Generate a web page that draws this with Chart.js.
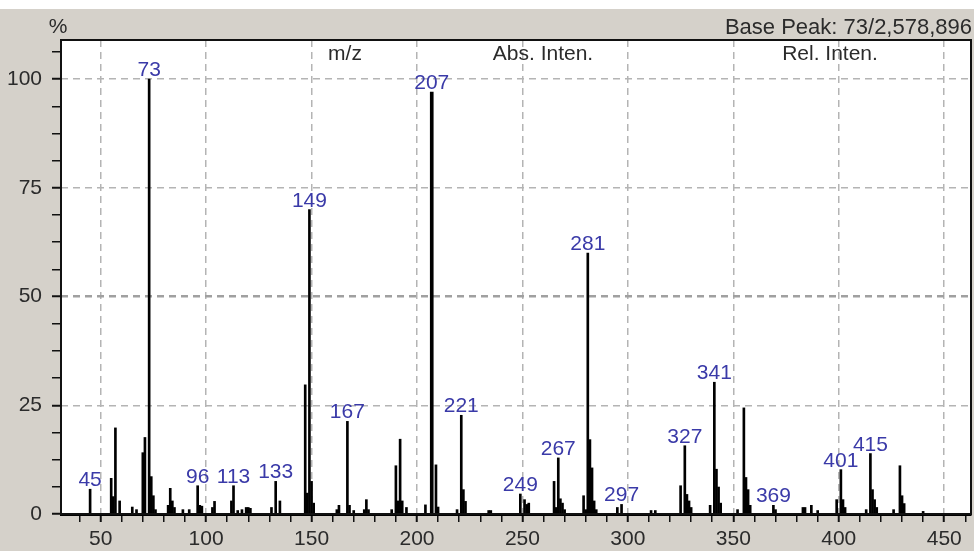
<!DOCTYPE html>
<html>
<head>
<meta charset="utf-8">
<script src="https://cdn.jsdelivr.net/npm/chart.js@4.4.1/dist/chart.umd.min.js"></script>
<style>
  html, body { margin: 0; padding: 0; background: #fff; }
  #wrap { width: 974px; height: 551px; }
</style>
</head>
<body>
<div id="wrap"><canvas id="spectrum" width="974" height="551"></canvas></div>
<script>
// m/z of every line in the spectrum and its relative intensity (%)
var mz = [45, 55, 56, 57, 59, 65, 67, 70, 71, 73, 74, 75, 76, 82, 83, 84, 85, 89, 92,
    96, 97, 98, 103, 104, 112, 113, 115, 117, 119, 120, 121, 131, 133, 135,
    147, 148, 149, 150, 151, 162, 163, 167, 168, 170, 175, 176, 177,
    188, 190, 191, 192, 193, 195, 204, 207, 209, 210, 219, 221, 222, 223, 234, 235,
    249, 251, 252, 253, 265, 266, 267, 268, 269, 270, 279, 280, 281, 282, 283, 284, 285,
    295, 297, 311, 313, 325, 327, 328, 329, 330, 339, 341, 342, 343, 344, 352,
    355, 356, 357, 358, 369, 370, 383, 384, 387, 390, 399, 401, 402, 403, 413,
    415, 416, 417, 418, 426, 429, 430, 431, 440];
var relInt = [5.7, 8.2, 4.0, 19.8, 3.0, 1.6, 1.0, 14.1, 17.6, 100, 8.6, 4.2, 1.0, 2.0, 5.9, 3.0, 1.5, 1.0, 1.0,
    6.5, 2.0, 1.8, 1.5, 2.9, 3.0, 6.5, 0.8, 1.0, 1.5, 1.5, 1.3, 1.5, 7.5, 3.0,
    29.7, 4.8, 70, 7.5, 2.5, 1.0, 2.0, 21.3, 2.0, 0.8, 1.0, 3.3, 1.0,
    1.0, 11.1, 3.0, 17.2, 3.0, 1.5, 2.1, 97, 11.3, 1.6, 1.0, 22.7, 5.6, 2.9, 0.8, 0.8,
    4.6, 3.3, 2.2, 2.5, 7.5, 1.5, 12.9, 3.5, 2.5, 1.0, 4.2, 1.0, 60, 17.1, 10.6, 3.0, 1.0,
    1.5, 2.2, 0.8, 0.8, 6.5, 15.7, 4.5, 3.0, 1.5, 2.0, 30.3, 10.3, 6.2, 2.5, 1.0,
    24.4, 8.4, 5.6, 2.0, 2.0, 1.0, 1.5, 1.5, 2.0, 0.8, 3.3, 10.2, 3.3, 1.5, 1.0,
    13.9, 5.6, 3.3, 1.5, 1.0, 11.1, 4.2, 2.4, 0.6];

// peaks that carry an m/z annotation
var labelled = [45, 73, 96, 113, 133, 149, 167, 207, 221, 249, 267, 281, 297, 327, 341, 369, 401, 415];
// drawn with a heavier stroke
var heavy = [207];

var xTicks = [];
for (var t = 40; t <= 460; t += 10) xTicks.push(t);
var yTicks = [0, 6.25, 12.5, 18.75, 25, 31.25, 37.5, 43.75, 50, 56.25, 62.5, 68.75, 75, 81.25, 87.5, 93.75, 100, 106.25];

var basePeak = 'Base Peak: 73/2,578,896';
var columns = [['m/z', 345], ['Abs. Inten.', 543], ['Rel. Inten.', 830]];

var FONT = '"Liberation Sans", Arial, sans-serif';
var normal = [], bold = [];
mz.forEach(function (m, i) {
    (heavy.indexOf(m) >= 0 ? bold : normal).push({ x: m, y: relInt[i] });
});

var backdrop = {
    id: 'backdrop',
    beforeDraw: function (chart) {
        var c = chart.ctx, a = chart.chartArea;
        c.save();
        c.fillStyle = '#fff';
        c.fillRect(0, 0, chart.width, chart.height);
        c.fillStyle = '#d5d1ca';
        c.fillRect(0, 9, chart.width, chart.height - 9);
        c.fillStyle = '#fff';
        c.fillRect(a.left, a.top, a.right - a.left, a.bottom - a.top);
        c.restore();
    }
};

var annotate = {
    id: 'annotate',
    afterDatasetsDraw: function (chart) {
        var c = chart.ctx, a = chart.chartArea;
        c.save();
        // frame
        c.strokeStyle = '#111';
        c.lineWidth = 2;
        c.strokeRect(a.left, a.top, a.right - a.left, a.bottom - a.top);

        // header line
        c.fillStyle = '#2b2b2b';
        c.textBaseline = 'middle';
        c.font = '21px ' + FONT;
        c.textAlign = 'center';
        c.fillText('%', 58, 27);
        c.font = '22px ' + FONT;
        c.textAlign = 'right';
        c.fillText(basePeak, 972, 28);
        c.font = '21px ' + FONT;
        c.textAlign = 'center';
        columns.forEach(function (col) { c.fillText(col[0], col[1], 54); });

        // peak m/z labels
        c.fillStyle = '#3a3aa8';
        c.textBaseline = 'alphabetic';
        c.font = '21px ' + FONT;
        chart.data.datasets.forEach(function (ds, di) {
            var meta = chart.getDatasetMeta(di);
            ds.data.forEach(function (p, i) {
                if (labelled.indexOf(p.x) < 0) return;
                var bar = meta.data[i];
                c.fillText(String(p.x), bar.x, bar.y - 3);
            });
        });
        c.restore();
    }
};

new Chart(document.getElementById('spectrum'), {
    type: 'bar',
    data: {
        datasets: [
            { data: normal, backgroundColor: '#000', barThickness: 2, grouped: false },
            { data: bold, backgroundColor: '#000', barThickness: 3, grouped: false }
        ]
    },
    options: {
        responsive: false,
        animation: false,
        devicePixelRatio: 1,
        layout: { padding: { top: 40, right: 3, left: 0, bottom: 0 } },
        plugins: { legend: { display: false }, tooltip: { enabled: false } },
        scales: {
            x: {
                type: 'linear',
                min: 31.2,
                max: 462.7,
                offset: false,
                afterBuildTicks: function (s) { s.ticks = xTicks.map(function (v) { return { value: v }; }); },
                afterFit: function (s) { s.height = 37; },
                grid: {
                    offset: false,
                    color: function (ctx) { return ctx.tick && ctx.tick.value % 50 === 0 ? '#b4b4b4' : 'rgba(0,0,0,0)'; },
                    lineWidth: 1.5,
                    tickColor: '#111',
                    tickLength: 8,
                    tickWidth: function (ctx) { return ctx.tick && ctx.tick.value % 50 === 0 ? 2 : 1.5; }
                },
                border: { display: true, color: '#000', width: 3, dash: [7, 5] },
                ticks: {
                    autoSkip: false,
                    maxRotation: 0,
                    padding: 5,
                    color: '#2b2b2b',
                    font: { family: FONT, size: 21 },
                    callback: function (v) { return v % 50 === 0 ? v : ''; }
                }
            },
            y: {
                min: 0,
                max: 109,
                afterBuildTicks: function (s) { s.ticks = yTicks.map(function (v) { return { value: v }; }); },
                afterFit: function (s) { s.width = 61; },
                grid: {
                    color: function (ctx) { return ctx.tick && ctx.tick.value % 25 === 0 ? (ctx.tick.value === 50 ? '#a0a0a0' : '#b4b4b4') : 'rgba(0,0,0,0)'; },
                    lineWidth: function (ctx) { return ctx.tick && ctx.tick.value === 50 ? 2.5 : 1.5; },
                    tickColor: '#111',
                    tickLength: 9,
                    tickWidth: function (ctx) { return ctx.tick && ctx.tick.value % 25 === 0 ? 2 : 1.5; }
                },
                border: { display: false, dash: [7, 5] },
                ticks: {
                    autoSkip: false,
                    padding: 10,
                    color: '#2b2b2b',
                    font: { family: FONT, size: 21 },
                    callback: function (v) { return v % 25 === 0 ? v : ''; }
                }
            }
        }
    },
    plugins: [backdrop, annotate]
});
</script>
</body>
</html>
